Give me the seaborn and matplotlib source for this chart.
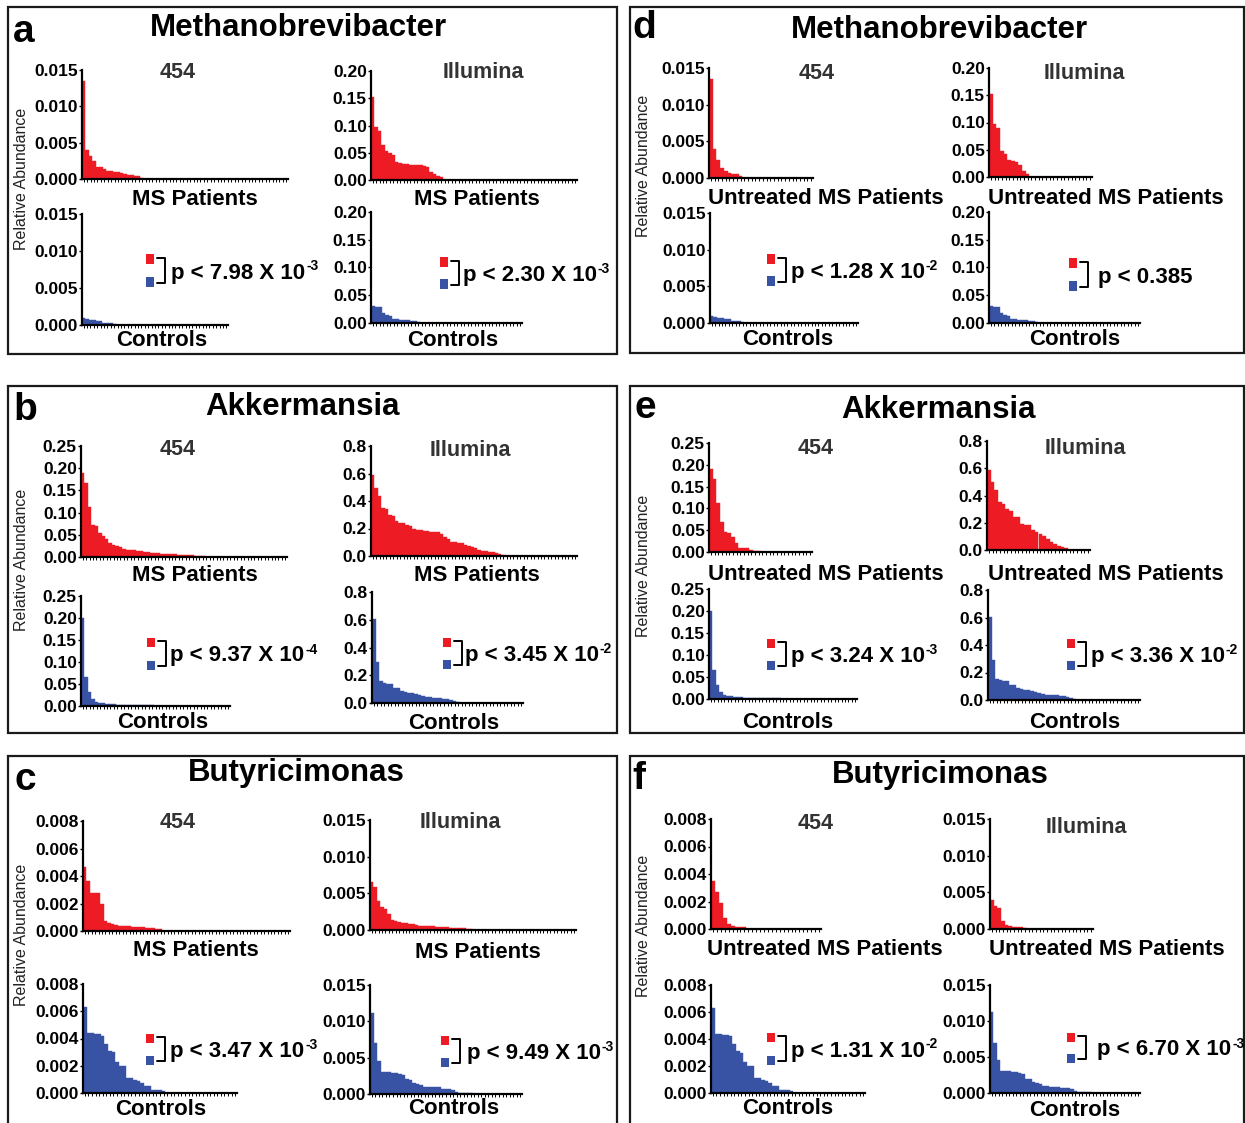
import numpy as np
import pandas as pd
import matplotlib
matplotlib.use("Agg")
import matplotlib.pyplot as plt
import seaborn as sns
from matplotlib.patches import Rectangle
from matplotlib.lines import Line2D

sns.set_theme(style="ticks")
plt.rcParams['font.family'] = ['Liberation Sans', 'DejaVu Sans']
plt.rcParams['text.color'] = 'black'
plt.rcParams['axes.labelcolor'] = 'black'
plt.rcParams['xtick.color'] = 'black'
plt.rcParams['ytick.color'] = 'black'

W, H = 1245, 1123
RED = "#ED1C24"
BLUE = "#3953A4"

N_MS = 60
N_UNTREATED = 28
N_CTRL = 43

# ---------------- data (sorted relative abundance per sample; remaining samples are 0) ----------
# Methanobrevibacter
metb_454_ms = [0.0135, 0.0040, 0.0031, 0.0025, 0.00165, 0.0016, 0.0014, 0.0011, 0.00105, 0.0010,
               0.0009, 0.00085, 0.0007, 0.0005, 0.0005, 0.00045, 0.00035, 0.0002]
metb_454_untreated = [0.0135, 0.0040, 0.0024, 0.0013, 0.0010, 0.0007, 0.0005, 0.0005, 0.0003]
metb_454_ctrl = [0.0009, 0.0008, 0.0007, 0.0007, 0.0006, 0.0006, 0.0003, 0.0003, 0.0003, 0.0002]
metb_ill_ms = [0.153, 0.098, 0.090, 0.064, 0.054, 0.049, 0.046, 0.033, 0.032, 0.029, 0.029,
               0.028, 0.028, 0.028, 0.027, 0.026, 0.023, 0.015, 0.011, 0.008, 0.006]
metb_ill_untreated = [0.153, 0.097, 0.089, 0.048, 0.043, 0.031, 0.029, 0.027, 0.022, 0.011, 0.006]
metb_ill_ctrl = [0.031, 0.029, 0.028, 0.018, 0.014, 0.013, 0.008, 0.008, 0.006, 0.006, 0.005,
                 0.004, 0.003, 0.002]
# Akkermansia
akk_454_ms = [0.190, 0.167, 0.113, 0.072, 0.070, 0.053, 0.047, 0.041, 0.032, 0.026, 0.024, 0.022,
              0.018, 0.016, 0.015, 0.015, 0.014, 0.013, 0.012, 0.011, 0.009, 0.008, 0.008, 0.007,
              0.007, 0.006, 0.006, 0.006, 0.005, 0.005, 0.005, 0.004, 0.004, 0.003, 0.003, 0.002]
akk_454_untreated = [0.190, 0.167, 0.112, 0.068, 0.047, 0.043, 0.034, 0.021, 0.010, 0.009, 0.009,
                     0.004, 0.003, 0.002]
akk_454_ctrl = [0.199, 0.065, 0.031, 0.015, 0.010, 0.007, 0.006, 0.005, 0.004, 0.004, 0.003, 0.003,
                0.003, 0.003, 0.003, 0.003, 0.002, 0.002, 0.002, 0.002, 0.002, 0.001, 0.001, 0.001,
                0.001]
akk_ill_ms = [0.587, 0.497, 0.439, 0.352, 0.342, 0.300, 0.288, 0.252, 0.242, 0.238, 0.222, 0.218,
              0.198, 0.188, 0.187, 0.185, 0.180, 0.178, 0.176, 0.174, 0.162, 0.138, 0.121, 0.104,
              0.100, 0.096, 0.094, 0.080, 0.076, 0.062, 0.060, 0.046, 0.035, 0.033, 0.030, 0.028,
              0.019, 0.012, 0.008]
akk_ill_untreated = [0.589, 0.497, 0.441, 0.349, 0.335, 0.301, 0.286, 0.244, 0.240, 0.188, 0.186,
                     0.184, 0.145, 0.131, 0.116, 0.102, 0.078, 0.056, 0.041, 0.026, 0.022, 0.012]
akk_ill_ctrl = [0.607, 0.293, 0.156, 0.142, 0.140, 0.138, 0.110, 0.106, 0.086, 0.082, 0.074, 0.070,
                0.063, 0.060, 0.050, 0.046, 0.040, 0.037, 0.035, 0.034, 0.032, 0.026, 0.022, 0.012,
                0.005]
# Butyricimonas
but_454_ms = [0.00463, 0.00364, 0.00280, 0.00279, 0.00278, 0.00194, 0.00075, 0.00060, 0.00048,
              0.00042, 0.00040, 0.00038, 0.00034, 0.00034, 0.00032, 0.00030, 0.00028, 0.00027,
              0.00025, 0.00022, 0.00020, 0.00018, 0.00015]
but_454_untreated = [0.0035, 0.0027, 0.0019, 0.0008, 0.0004, 0.00022, 0.00016, 0.00015, 0.00014]
but_454_ctrl = [0.0063, 0.0044, 0.0044, 0.0043, 0.0043, 0.0042, 0.0036, 0.0031, 0.0030, 0.0023,
                0.0020, 0.0020, 0.0011, 0.0011, 0.00098, 0.00086, 0.00073, 0.0005, 0.0005, 0.00025,
                0.00025, 0.00024, 0.00012]
but_ill_ms = [0.0066, 0.0059, 0.0040, 0.0031, 0.0029, 0.0022, 0.0013, 0.0012, 0.0011, 0.0010,
              0.0010, 0.0008, 0.0008, 0.0007, 0.0006, 0.0006, 0.0006, 0.0005, 0.0005, 0.0004,
              0.0004, 0.0004, 0.0004, 0.0003, 0.0003, 0.0003, 0.0003, 0.0003, 0.0002, 0.0002]
but_ill_untreated = [0.0040, 0.0032, 0.0029, 0.0011, 0.0005, 0.0004, 0.0003, 0.0003, 0.0003, 0.0002]
but_ill_ctrl = [0.0112, 0.0070, 0.0046, 0.0030, 0.0030, 0.0030, 0.0029, 0.0029, 0.0028, 0.0026,
                0.0020, 0.0019, 0.0015, 0.0014, 0.0013, 0.0010, 0.0010, 0.0009, 0.0009, 0.0009,
                0.0007, 0.0007, 0.0007, 0.0006, 0.0003, 0.0002, 0.0002, 0.0002, 0.0001]

# y-axis ticks
metb_454_ticks = [0.0, 0.005, 0.010, 0.015]
metb_ill_ticks = [0.0, 0.05, 0.10, 0.15, 0.20]
akk_454_ticks = [0.0, 0.05, 0.10, 0.15, 0.20, 0.25]
akk_ill_ticks = [0.0, 0.2, 0.4, 0.6, 0.8]
but_454_ticks = [0.0, 0.002, 0.004, 0.006, 0.008]
but_ill_ticks = [0.0, 0.005, 0.010, 0.015]

# p-value labels (mantissa text, exponent)
p_values = {
    'a': [("7.98", "-3"), ("2.30", "-3")],
    'd': [("1.28", "-2"), ("0.385", None)],
    'b': [("9.37", "-4"), ("3.45", "-2")],
    'e': [("3.24", "-3"), ("3.36", "-2")],
    'c': [("3.47", "-3"), ("9.49", "-3")],
    'f': [("1.31", "-2"), ("6.70", "-3")],
}

# ---------------------------------------------------------------------------------------------
fig = plt.figure(figsize=(W / 100, H / 100), dpi=100)
fig.patch.set_facecolor("white")


def fx(x):
    return x / W


def fy(y):
    return 1 - y / H


def txt(x, y, s, **kw):
    kw.setdefault("color", "black")
    return fig.text(fx(x), fy(y), s, **kw)


def bars(vals, n, color, rect, ticks, dec):
    l, r, t, b = rect
    ax = fig.add_axes([fx(l), fy(b), (r - l) / W, (b - t) / H])
    y = list(vals) + [0.0] * (n - len(vals))
    df = pd.DataFrame({"sample": np.arange(n), "abundance": y})
    sns.barplot(data=df, x="sample", y="abundance", color=color, saturation=1, width=1.0,
                edgecolor=color, linewidth=0.3, ax=ax)
    ax.set_xlim(-0.5, n - 0.5)
    ax.set_ylim(0, ticks[-1])
    ax.set_xticks(np.arange(n))
    ax.set_xticklabels([])
    ax.set_yticks(ticks)
    ax.set_yticklabels([f"{v:.{dec}f}" for v in ticks], fontweight="bold", fontsize=12.5,
                       color="black")
    ax.set_xlabel("")
    ax.set_ylabel("")
    ax.patch.set_alpha(0)
    for s in ["top", "right"]:
        ax.spines[s].set_visible(False)
    for s in ["left", "bottom"]:
        ax.spines[s].set_linewidth(1.6)
        ax.spines[s].set_color("black")
    ax.tick_params(axis="x", length=2.5, width=0.7, color="black", direction="out")
    ax.tick_params(axis="y", length=2.5, width=1.0, color="black", pad=0.5, labelcolor="black")
    return ax


def pval(sq_cx, red_cy, blue_cy, text_x, mant, exp):
    sw, sh = 8, 9
    fig.patches.append(Rectangle((fx(sq_cx - sw / 2), fy(red_cy + sh / 2)), sw / W, sh / H,
                                 transform=fig.transFigure, facecolor=RED, edgecolor="none"))
    fig.patches.append(Rectangle((fx(sq_cx - sw / 2), fy(blue_cy + sh / 2)), sw / W, sh / H,
                                 transform=fig.transFigure, facecolor=BLUE, edgecolor="none"))
    x0 = sq_cx + sw / 2 + 3
    x1 = x0 + 8
    fig.lines.append(Line2D([fx(x0), fx(x1), fx(x1), fx(x0)],
                            [fy(red_cy - 1), fy(red_cy - 1), fy(blue_cy + 1), fy(blue_cy + 1)],
                            transform=fig.transFigure, color="black", linewidth=1.4))
    base = (red_cy + blue_cy) / 2 + 8
    main = f"p < {mant}" + (" X 10" if exp else "")
    t = txt(text_x, base, main, fontsize=16, fontweight="bold", ha="left", va="baseline")
    if exp:
        fig.canvas.draw()
        bb = t.get_window_extent(fig.canvas.get_renderer())
        txt(bb.x1 + 1, base - 8, exp, fontsize=10, fontweight="bold", ha="left", va="baseline")


panels = [
    dict(letter='a', title='Methanobrevibacter', box=(8, 7, 617, 354), letter_xy=(13, 42),
         title_xy=(298, 36), ylab_xy=(22, 179),
         subs=[
             (metb_454_ms, N_MS, RED, (82, 288, 70, 179), metb_454_ticks, 3,
              "MS Patients", (195, 205), "454", (178, 78)),
             (metb_454_ctrl, N_CTRL, BLUE, (82, 228, 214, 325), metb_454_ticks, 3,
              "Controls", (162, 346), None, None),
             (metb_ill_ms, N_MS, RED, (371, 577, 71, 180), metb_ill_ticks, 2,
              "MS Patients", (477, 205), "Illumina", (483, 78)),
             (metb_ill_ctrl, N_CTRL, BLUE, (371, 522, 212, 323), metb_ill_ticks, 2,
              "Controls", (453, 346), None, None)],
         p=[(150, 259, 282, 171), (444, 262, 284, 463)]),
    dict(letter='d', title='Methanobrevibacter', box=(630, 7, 1244, 353), letter_xy=(632, 38),
         title_xy=(939, 38), ylab_xy=(643, 166),
         subs=[
             (metb_454_untreated, N_UNTREATED, RED, (709, 813, 68, 178), metb_454_ticks, 3,
              "Untreated MS Patients", (826, 204), "454", (817, 79)),
             (metb_454_ctrl, N_CTRL, BLUE, (710, 858, 213, 323), metb_454_ticks, 3,
              "Controls", (788, 345), None, None),
             (metb_ill_untreated, N_UNTREATED, RED, (989, 1092, 68, 177), metb_ill_ticks, 2,
              "Untreated MS Patients", (1106, 204), "Illumina", (1084, 79)),
             (metb_ill_ctrl, N_CTRL, BLUE, (989, 1140, 212, 323), metb_ill_ticks, 2,
              "Controls", (1075, 345), None, None)],
         p=[(771, 259, 281, 791), (1073, 263, 286, 1098)]),
    dict(letter='b', title='Akkermansia', box=(8, 386, 617, 733), letter_xy=(13, 420),
         title_xy=(302, 415), ylab_xy=(22, 560),
         subs=[
             (akk_454_ms, N_MS, RED, (81, 287, 446, 557), akk_454_ticks, 2,
              "MS Patients", (195, 581), "454", (178, 455)),
             (akk_454_ctrl, N_CTRL, BLUE, (81, 230, 596, 706), akk_454_ticks, 2,
              "Controls", (163, 728), None, None),
             (akk_ill_ms, N_MS, RED, (371, 577, 446, 556), akk_ill_ticks, 1,
              "MS Patients", (477, 581), "Illumina", (470, 456)),
             (akk_ill_ctrl, N_CTRL, BLUE, (372, 523, 592, 703), akk_ill_ticks, 1,
              "Controls", (454, 729), None, None)],
         p=[(151, 642, 665, 170), (447, 642, 664, 465)]),
    dict(letter='e', title='Akkermansia', box=(630, 386, 1244, 733), letter_xy=(635, 418),
         title_xy=(938, 418), ylab_xy=(643, 566),
         subs=[
             (akk_454_untreated, N_UNTREATED, RED, (709, 812, 443, 552), akk_454_ticks, 2,
              "Untreated MS Patients", (826, 580), "454", (816, 454)),
             (akk_454_ctrl, N_CTRL, BLUE, (709, 857, 589, 699), akk_454_ticks, 2,
              "Controls", (788, 728), None, None),
             (akk_ill_untreated, N_UNTREATED, RED, (987, 1090, 441, 550), akk_ill_ticks, 1,
              "Untreated MS Patients", (1106, 580), "Illumina", (1085, 454)),
             (akk_ill_ctrl, N_CTRL, BLUE, (988, 1140, 590, 700), akk_ill_ticks, 1,
              "Controls", (1075, 728), None, None)],
         p=[(771, 643, 665, 791), (1071, 643, 665, 1091)]),
    dict(letter='c', title='Butyricimonas', box=(8, 756, 617, 1130), letter_xy=(14, 790),
         title_xy=(296, 781), ylab_xy=(22, 935),
         subs=[
             (but_454_ms, N_MS, RED, (83, 290, 821, 931), but_454_ticks, 3,
              "MS Patients", (196, 956), "454", (178, 828)),
             (but_454_ctrl, N_CTRL, BLUE, (83, 237, 984, 1093), but_454_ticks, 3,
              "Controls", (161, 1115), None, None),
             (but_ill_ms, N_MS, RED, (370, 576, 820, 930), but_ill_ticks, 3,
              "MS Patients", (478, 958), "Illumina", (460, 828)),
             (but_ill_ctrl, N_CTRL, BLUE, (370, 522, 985, 1094), but_ill_ticks, 3,
              "Controls", (454, 1114), None, None)],
         p=[(150, 1038, 1060, 170), (445, 1040, 1062, 467)]),
    dict(letter='f', title='Butyricimonas', box=(630, 756, 1244, 1130), letter_xy=(632, 789),
         title_xy=(940, 783), ylab_xy=(643, 926),
         subs=[
             (but_454_untreated, N_UNTREATED, RED, (711, 821, 819, 929), but_454_ticks, 3,
              "Untreated MS Patients", (825, 955), "454", (816, 829)),
             (but_454_ctrl, N_CTRL, BLUE, (711, 865, 985, 1093), but_454_ticks, 3,
              "Controls", (788, 1114), None, None),
             (but_ill_untreated, N_UNTREATED, RED, (990, 1093, 819, 929), but_ill_ticks, 3,
              "Untreated MS Patients", (1107, 955), "Illumina", (1086, 833)),
             (but_ill_ctrl, N_CTRL, BLUE, (990, 1140, 985, 1093), but_ill_ticks, 3,
              "Controls", (1075, 1116), None, None)],
         p=[(771, 1037, 1060, 791), (1071, 1037, 1058, 1097)]),
]

for P in panels:
    x0, y0, x1, y1 = P["box"]
    fig.patches.append(Rectangle((fx(x0), fy(y1)), (x1 - x0) / W, (y1 - y0) / H,
                                 transform=fig.transFigure, facecolor="none",
                                 edgecolor="#1a1a1a", linewidth=1.6))
    txt(*P["letter_xy"], P["letter"], fontsize=28, fontweight="bold", ha="left", va="baseline")
    txt(*P["title_xy"], P["title"], fontsize=22.5, fontweight="bold", ha="center", va="baseline")
    txt(*P["ylab_xy"], "Relative Abundance", fontsize=11.5, rotation=90, ha="center",
        va="center", color="#222222")
    for (vals, n, color, rect, ticks, dec, xl, xl_xy, head, head_xy) in P["subs"]:
        bars(vals, n, color, rect, ticks, dec)
        txt(*xl_xy, xl, fontsize=16, fontweight="bold", ha="center", va="baseline")
        if head:
            txt(*head_xy, head, fontsize=15.5, fontweight="bold", ha="center", va="baseline",
                color="#333333")
    for (sq_cx, rc, bc, tx), (mant, exp) in zip(P["p"], p_values[P["letter"]]):
        pval(sq_cx, rc, bc, tx, mant, exp)

fig.savefig("out.png", dpi=100, facecolor="white")
